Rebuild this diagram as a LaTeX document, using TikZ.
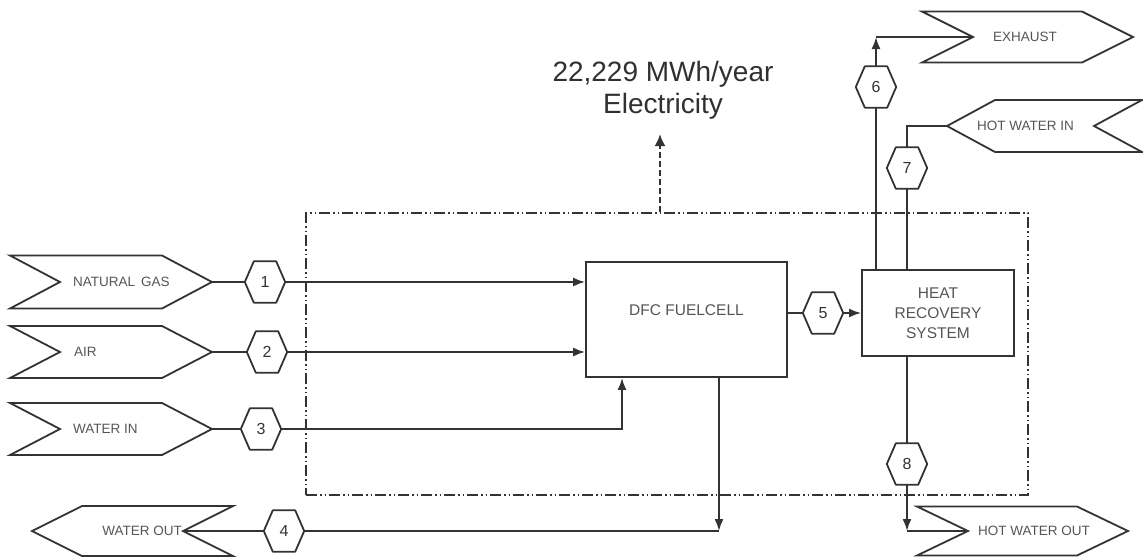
\documentclass[tikz,border=0pt]{standalone}
\usepackage{fontspec}
\setmainfont{Liberation Sans}
\usetikzlibrary{arrows.meta,calc}
\definecolor{ln}{HTML}{333333}
\definecolor{tx}{HTML}{555555}
\definecolor{big}{HTML}{303030}
\newcommand\hexd[1]{\draw[hexline] (#1.west) -- ([xshift=9pt]#1.north west) -- ([xshift=-9pt]#1.north east) -- (#1.east) -- ([xshift=-9pt]#1.south east) -- ([xshift=9pt]#1.south west) -- cycle;}
% right-pointing flag: name, xl, xr, yc, h, d
\newcommand\flagR[6]{%
  \draw[flagline] (#2,#4-#5) -- (#3-#6,#4-#5) -- (#3,#4) -- (#3-#6,#4+#5) -- (#2,#4+#5) -- (#2+#6,#4) -- cycle;
  \coordinate (#1-tip) at (#3,#4); \coordinate (#1-notch) at (#2+#6,#4);}
% left-pointing flag: name, xl, xr, yc, h, d
\newcommand\flagL[6]{%
  \draw[flagline] (#2,#4) -- (#2+#6,#4-#5) -- (#3,#4-#5) -- (#3-#6,#4) -- (#3,#4+#5) -- (#2+#6,#4+#5) -- cycle;
  \coordinate (#1-tip) at (#2,#4); \coordinate (#1-notch) at (#3-#6,#4);}
\begin{document}
\begin{tikzpicture}[x=1pt,y=-1pt,
  conn/.style={draw=ln, line width=1.8pt},
  arr/.style={conn, -{Latex[length=12pt,width=9pt]}},
  hexline/.style={draw=ln, line width=1.8pt, line join=round},
  flagline/.style={draw=ln, line width=1.8pt, line join=miter},
  hexn/.style={minimum width=40pt, minimum height=41pt, inner sep=0pt, font=\fontsize{16}{18}\selectfont, text=ln},
  flagtext/.style={font=\fontsize{13.5}{15}\selectfont, text=tx, inner sep=0pt},
  boxn/.style={draw=ln, line width=1.8pt, inner sep=0pt, text=tx, font=\fontsize{15.5}{20}\selectfont, align=center},
  sysbox/.style={draw=ln, line width=1.6pt, dash pattern=on 11pt off 3pt on 1.5pt off 3pt on 1.5pt off 3pt, inner sep=0pt},
  elecline/.style={draw=ln, line width=2.4pt, dash pattern=on 6pt off 3pt, -{Latex[length=12pt,width=11pt]}}
]
\useasboundingbox (0,0) rectangle (1143,557);

% system boundary
\node[sysbox, minimum width=722pt, minimum height=282pt] (sys) at (667,354) {};

% main boxes
\node[boxn, minimum width=201pt, minimum height=115pt] (dfc) at (686.5,319.5) {\raisebox{18pt}{DFC FUELCELL}};
\node[boxn, minimum width=152pt, minimum height=86pt] (hrs) at (938,313) {HEAT\\RECOVERY\\SYSTEM};

% electricity
\node[font=\fontsize{28}{32}\selectfont, text=big, align=center, inner sep=0pt] (elec) at (663,90) {22,229 MWh/year\\Electricity};
\coordinate (etip) at (660,134);
\draw[elecline] (sys.north -| etip) -- (etip);

% flags
\flagR{ng}{10}{212}{282}{26.5}{50}
\flagR{air}{10}{212}{352}{26}{50}
\flagR{wi}{10}{212}{429}{26}{50}
\flagL{wo}{32}{233}{531}{25}{50}
\flagR{ex}{922}{1133}{37}{25.5}{51}
\flagL{hwi}{947}{1142}{126}{26}{48}
\flagR{hwo}{917}{1128}{531}{24.5}{51}

\node[flagtext, anchor=west] (tng) at (73,282) {NATURAL\, GAS};
\node[flagtext, anchor=west] (tair) at (74,352) {AIR};
\node[flagtext, anchor=west] (twi) at (73,429) {WATER IN};
\node[flagtext, anchor=east] (two) at (182,531) {WATER OUT};
\node[flagtext, anchor=west] (tex) at (993,37) {EXHAUST};
\node[flagtext, anchor=west] (thwi) at (977,126) {HOT WATER IN};
\node[flagtext, anchor=west] (thwo) at (978,531) {HOT WATER OUT};

% hexagons
\node[hexn] (h1) at (265,282) {1};
\node[hexn] (h2) at (267,352) {2};
\node[hexn] (h3) at (261,429) {3};
\node[hexn] (h4) at (284,531) {4};
\node[hexn] (h5) at (823,313) {5};
\node[hexn] (h6) at (876,87) {6};
\node[hexn] (h7) at (907,168) {7};
\node[hexn] (h8) at (907,464) {8};
\foreach \h in {h1,h2,h3,h4,h5,h6,h7,h8} {\hexd{\h}}

% inputs
\draw[conn] (ng-tip) -- (h1.west);
\draw[arr] (h1.east) -- (h1.east -| dfc.west);
\draw[conn] (air-tip) -- (h2.west);
\draw[arr] (h2.east) -- (h2.east -| dfc.west);
\draw[conn] (wi-tip) -- (h3.west);
\coordinate (c3) at (622,429);
\draw[arr] (h3.east) -- (c3) -- (c3 |- dfc.south);

% water out
\coordinate (c4) at (719,531);
\draw[arr] (c4 |- dfc.south) -- (c4);
\draw[conn] (c4) -- (h4.east);
\draw[conn] (h4.west) -- (wo-notch);

% stream 5
\draw[conn] (h5.west -| dfc.east) -- (h5.west);
\draw[arr] (h5.east) -- (h5.east -| hrs.west);

% exhaust
\coordinate (c6) at (876,37);
\draw[conn] (hrs.north -| h6) -- (h6.south);
\draw[arr] (h6.north) -- (c6);
\draw[conn] (c6) -- (ex-notch);

% hot water in
\coordinate (c7) at (907,126);
\draw[conn] (hwi-tip) -- (c7) -- (h7.north);
\draw[conn] (h7.south) -- (h7.south |- hrs.north);

% hot water out
\coordinate (c8) at (907,531);
\draw[conn] (hrs.south -| h8) -- (h8.north);
\draw[arr] (h8.south) -- (c8);
\draw[conn] (c8) -- (hwo-notch);
\end{tikzpicture}
\end{document}
